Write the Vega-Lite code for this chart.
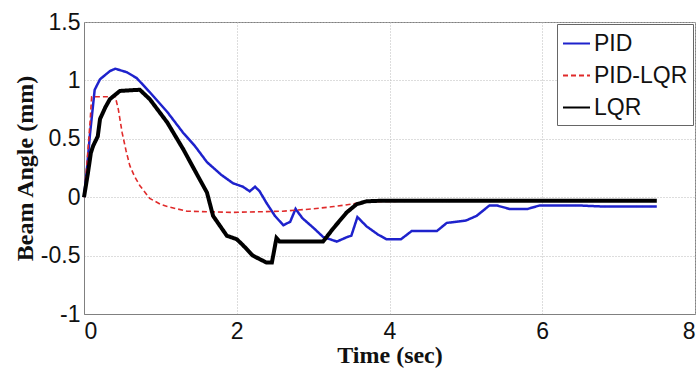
{
  "$schema": "https://vega.github.io/schema/vega-lite/v6.json",
  "width": 611,
  "height": 292,
  "autosize": {"type": "none"},
  "padding": {"left": 84, "top": 22, "right": 5, "bottom": 55},
  "background": "white",
  "config": {
    "view": {"stroke": "#808080", "strokeWidth": 1},
    "axis": {
      "labelFont": "Liberation Sans",
      "labelFontSize": 23,
      "labelColor": "#111",
      "titleFont": "Liberation Serif",
      "titleFontSize": 24,
      "titleFontWeight": "bold",
      "titleColor": "#111",
      "domainColor": "#808080",
      "ticks": false,
      "gridColor": "#bbbbbb",
      "gridDash": [1, 2],
      "gridWidth": 1,
      "labelExpr": "'' + datum.value"
    },
    "legend": {
      "labelFont": "Liberation Sans",
      "labelFontSize": 23,
      "labelColor": "#111",
      "strokeColor": "#666",
      "fillColor": "white",
      "padding": 5,
      "rowPadding": 5,
      "symbolType": "stroke",
      "symbolSize": 729,
      "symbolStrokeWidth": 2,
      "labelOffset": 3
    }
  },
  "datasets": {
    "d": [
      {"series": "PID", "t": 0, "v": 0},
      {"series": "PID", "t": 0.04, "v": 0.25},
      {"series": "PID", "t": 0.08, "v": 0.55},
      {"series": "PID", "t": 0.14, "v": 0.92},
      {"series": "PID", "t": 0.21, "v": 1.01},
      {"series": "PID", "t": 0.34, "v": 1.08},
      {"series": "PID", "t": 0.41, "v": 1.10},
      {"series": "PID", "t": 0.56, "v": 1.07},
      {"series": "PID", "t": 0.69, "v": 1.02},
      {"series": "PID", "t": 0.86, "v": 0.90},
      {"series": "PID", "t": 1.09, "v": 0.73},
      {"series": "PID", "t": 1.30, "v": 0.55},
      {"series": "PID", "t": 1.45, "v": 0.44},
      {"series": "PID", "t": 1.61, "v": 0.30},
      {"series": "PID", "t": 1.80, "v": 0.19},
      {"series": "PID", "t": 1.95, "v": 0.12},
      {"series": "PID", "t": 2.08, "v": 0.09},
      {"series": "PID", "t": 2.17, "v": 0.05},
      {"series": "PID", "t": 2.24, "v": 0.09},
      {"series": "PID", "t": 2.30, "v": 0.05},
      {"series": "PID", "t": 2.39, "v": -0.05},
      {"series": "PID", "t": 2.50, "v": -0.16},
      {"series": "PID", "t": 2.61, "v": -0.24},
      {"series": "PID", "t": 2.70, "v": -0.21},
      {"series": "PID", "t": 2.77, "v": -0.10},
      {"series": "PID", "t": 2.86, "v": -0.18},
      {"series": "PID", "t": 3.00, "v": -0.26},
      {"series": "PID", "t": 3.13, "v": -0.34},
      {"series": "PID", "t": 3.31, "v": -0.38},
      {"series": "PID", "t": 3.45, "v": -0.34},
      {"series": "PID", "t": 3.50, "v": -0.33},
      {"series": "PID", "t": 3.58, "v": -0.17},
      {"series": "PID", "t": 3.70, "v": -0.25},
      {"series": "PID", "t": 3.85, "v": -0.32},
      {"series": "PID", "t": 3.96, "v": -0.36},
      {"series": "PID", "t": 4.15, "v": -0.36},
      {"series": "PID", "t": 4.29, "v": -0.29},
      {"series": "PID", "t": 4.62, "v": -0.29},
      {"series": "PID", "t": 4.75, "v": -0.22},
      {"series": "PID", "t": 5.00, "v": -0.20},
      {"series": "PID", "t": 5.14, "v": -0.16},
      {"series": "PID", "t": 5.31, "v": -0.07},
      {"series": "PID", "t": 5.40, "v": -0.07},
      {"series": "PID", "t": 5.57, "v": -0.10},
      {"series": "PID", "t": 5.81, "v": -0.10},
      {"series": "PID", "t": 5.97, "v": -0.07},
      {"series": "PID", "t": 6.45, "v": -0.07},
      {"series": "PID", "t": 6.80, "v": -0.08},
      {"series": "PID", "t": 7.50, "v": -0.08},
      {"series": "PID-LQR", "t": 0, "v": 0},
      {"series": "PID-LQR", "t": 0.04, "v": 0.30},
      {"series": "PID-LQR", "t": 0.08, "v": 0.65},
      {"series": "PID-LQR", "t": 0.10, "v": 0.86},
      {"series": "PID-LQR", "t": 0.25, "v": 0.86},
      {"series": "PID-LQR", "t": 0.41, "v": 0.86},
      {"series": "PID-LQR", "t": 0.45, "v": 0.75},
      {"series": "PID-LQR", "t": 0.50, "v": 0.55},
      {"series": "PID-LQR", "t": 0.55, "v": 0.40},
      {"series": "PID-LQR", "t": 0.60, "v": 0.27},
      {"series": "PID-LQR", "t": 0.66, "v": 0.18},
      {"series": "PID-LQR", "t": 0.73, "v": 0.10},
      {"series": "PID-LQR", "t": 0.86, "v": -0.01},
      {"series": "PID-LQR", "t": 1.00, "v": -0.06},
      {"series": "PID-LQR", "t": 1.09, "v": -0.08},
      {"series": "PID-LQR", "t": 1.35, "v": -0.12},
      {"series": "PID-LQR", "t": 1.95, "v": -0.13},
      {"series": "PID-LQR", "t": 2.60, "v": -0.12},
      {"series": "PID-LQR", "t": 3.00, "v": -0.10},
      {"series": "PID-LQR", "t": 3.27, "v": -0.08},
      {"series": "PID-LQR", "t": 3.50, "v": -0.06},
      {"series": "PID-LQR", "t": 3.70, "v": -0.04},
      {"series": "PID-LQR", "t": 4.50, "v": -0.03},
      {"series": "PID-LQR", "t": 7.50, "v": -0.03},
      {"series": "LQR", "t": 0, "v": 0},
      {"series": "LQR", "t": 0.05, "v": 0.20},
      {"series": "LQR", "t": 0.09, "v": 0.38},
      {"series": "LQR", "t": 0.12, "v": 0.44},
      {"series": "LQR", "t": 0.18, "v": 0.52},
      {"series": "LQR", "t": 0.21, "v": 0.67},
      {"series": "LQR", "t": 0.28, "v": 0.77},
      {"series": "LQR", "t": 0.34, "v": 0.84},
      {"series": "LQR", "t": 0.47, "v": 0.91},
      {"series": "LQR", "t": 0.73, "v": 0.92},
      {"series": "LQR", "t": 0.86, "v": 0.84},
      {"series": "LQR", "t": 1.09, "v": 0.64},
      {"series": "LQR", "t": 1.30, "v": 0.41},
      {"series": "LQR", "t": 1.45, "v": 0.23},
      {"series": "LQR", "t": 1.61, "v": 0.04},
      {"series": "LQR", "t": 1.69, "v": -0.16},
      {"series": "LQR", "t": 1.87, "v": -0.33},
      {"series": "LQR", "t": 2.00, "v": -0.36},
      {"series": "LQR", "t": 2.08, "v": -0.41},
      {"series": "LQR", "t": 2.21, "v": -0.50},
      {"series": "LQR", "t": 2.39, "v": -0.56},
      {"series": "LQR", "t": 2.46, "v": -0.56},
      {"series": "LQR", "t": 2.50, "v": -0.42},
      {"series": "LQR", "t": 2.52, "v": -0.35},
      {"series": "LQR", "t": 2.56, "v": -0.38},
      {"series": "LQR", "t": 3.13, "v": -0.38},
      {"series": "LQR", "t": 3.26, "v": -0.27},
      {"series": "LQR", "t": 3.44, "v": -0.13},
      {"series": "LQR", "t": 3.57, "v": -0.06},
      {"series": "LQR", "t": 3.70, "v": -0.035},
      {"series": "LQR", "t": 3.90, "v": -0.03},
      {"series": "LQR", "t": 7.50, "v": -0.03}
    ]
  },
  "data": {"name": "d"},
  "encoding": {
    "x": {
      "field": "t", "type": "quantitative",
      "scale": {"domain": [0, 8], "nice": false},
      "axis": {"values": [0, 2, 4, 6, 8], "title": "Time (sec)", "labelPadding": 6, "titlePadding": 0}
    },
    "y": {
      "field": "v", "type": "quantitative",
      "scale": {"domain": [-1, 1.5], "nice": false},
      "axis": {"values": [-1, -0.5, 0, 0.5, 1, 1.5], "title": "Beam Angle (mm)", "labelPadding": 4, "titlePadding": 3}
    },
    "color": {
      "field": "series", "type": "nominal",
      "scale": {"domain": ["PID", "PID-LQR", "LQR"], "range": ["#1e22cc", "#e02a2a", "#000000"]},
      "legend": {"title": null, "orient": "none", "legendX": 473, "legendY": 2}
    },
    "strokeDash": {
      "field": "series", "type": "nominal",
      "scale": {"domain": ["PID", "PID-LQR", "LQR"], "range": [[1, 0], [5, 3], [1, 0]]},
      "legend": {"title": null, "orient": "none", "legendX": 473, "legendY": 2}
    }
  },
  "layer": [
    {
      "transform": [{"filter": "datum.series === 'PID'"}],
      "mark": {"type": "line", "strokeWidth": 2.5}
    },
    {
      "transform": [{"filter": "datum.series === 'PID-LQR'"}],
      "mark": {"type": "line", "strokeWidth": 1.6}
    },
    {
      "transform": [{"filter": "datum.series === 'LQR'"}],
      "mark": {"type": "line", "strokeWidth": 4}
    }
  ]
}
